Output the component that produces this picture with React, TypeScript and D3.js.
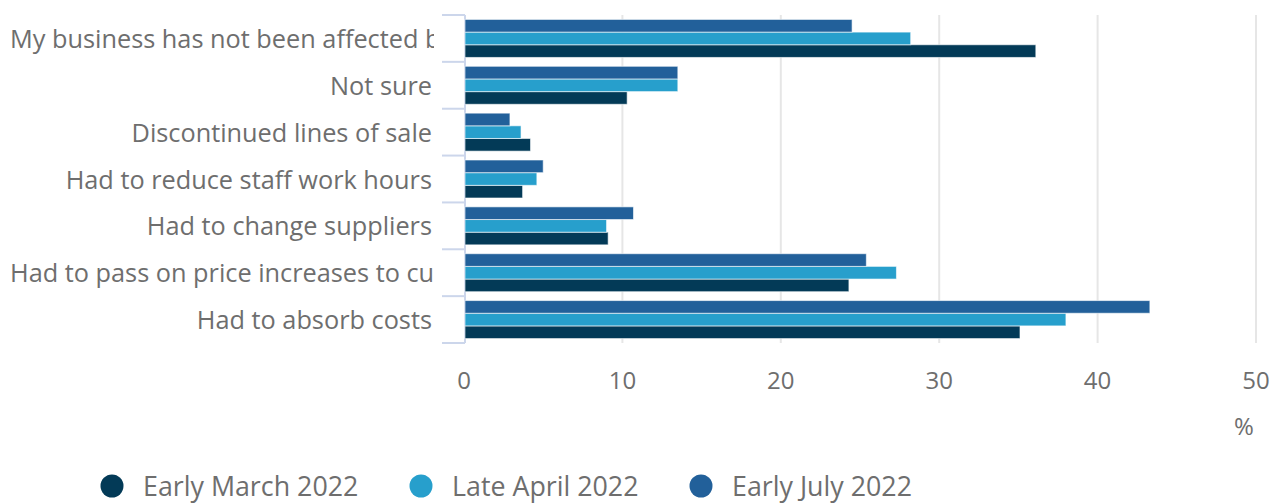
import React, { useRef, useEffect } from 'react';
import * as d3 from 'd3';

const categories = [
  'My business has not been affected by price increases',
  'Not sure',
  'Discontinued lines of sale',
  'Had to reduce staff work hours',
  'Had to change suppliers',
  'Had to pass on price increases to customers',
  'Had to absorb costs',
];

const earlyMarch = [36.1, 10.3, 4.2, 3.7, 9.1, 24.3, 35.1];
const lateApril = [28.2, 13.5, 3.6, 4.6, 9.0, 27.3, 38.0];
const earlyJuly = [24.5, 13.5, 2.9, 5.0, 10.7, 25.4, 43.3];

const xTicks = [0, 10, 20, 30, 40, 50];

const series = [
  { name: 'Early March 2022', values: earlyMarch, color: '#033a57' },
  { name: 'Late April 2022', values: lateApril, color: '#279fcc' },
  { name: 'Early July 2022', values: earlyJuly, color: '#22609a' },
];

// bars are stacked top-to-bottom in reverse series order
const barOrder = ['Early July 2022', 'Late April 2022', 'Early March 2022'];

const FONT = '"Open Sans", "Noto Sans", sans-serif';
const TEXT = '#6e6e6e';

const App: React.FC = () => {
  const svgRef = useRef<SVGSVGElement | null>(null);

  useEffect(() => {
    if (!svgRef.current) return;
    const svg = d3.select(svgRef.current);
    svg.selectAll('*').remove();

    const width = 1276;
    const height = 503;
    const plot = { left: 464, right: 1256, top: 15, bottom: 343 };

    const x = d3.scaleLinear().domain([0, 50]).range([plot.left, plot.right]);
    const y0 = d3.scaleBand().domain(categories).range([plot.top, plot.bottom]);
    const y1 = d3.scaleBand()
      .domain(barOrder)
      .range([0, y0.bandwidth()])
      .paddingOuter(0.35)
      .paddingInner(0);

    svg.attr('width', width).attr('height', height);

    svg.append('defs')
      .append('clipPath')
      .attr('id', 'label-clip')
      .append('rect')
      .attr('x', 0)
      .attr('y', 0)
      .attr('width', 434)
      .attr('height', plot.bottom + 10);

    // Grid
    svg.append('g')
      .selectAll('line')
      .data(xTicks.filter(t => t > 0))
      .join('line')
      .attr('x1', d => x(d))
      .attr('x2', d => x(d))
      .attr('y1', plot.top)
      .attr('y2', plot.bottom)
      .attr('stroke', '#e6e6e6')
      .attr('stroke-width', 2);

    // Category axis
    const yAxis = svg.append('g');
    yAxis.append('line')
      .attr('x1', plot.left + 1)
      .attr('x2', plot.left + 1)
      .attr('y1', plot.top)
      .attr('y2', plot.bottom)
      .attr('stroke', '#ccd6eb')
      .attr('stroke-width', 2);

    const boundaries = categories.map(c => y0(c)!).concat([plot.bottom]);
    yAxis.selectAll('.tick')
      .data(boundaries)
      .join('line')
      .attr('class', 'tick')
      .attr('x1', plot.left - 22)
      .attr('x2', plot.left + 1)
      .attr('y1', d => d)
      .attr('y2', d => d)
      .attr('stroke', '#ccd6eb')
      .attr('stroke-width', 2);

    // Category labels: long ones start at the left edge and are clipped
    const maxLabelWidth = 422;
    const labels = yAxis.append('g')
      .attr('clip-path', 'url(#label-clip)')
      .selectAll('.cat-label')
      .data(categories)
      .join('text')
      .attr('class', 'cat-label')
      .attr('x', 432)
      .attr('y', d => y0(d)! + y0.bandwidth() / 2)
      .attr('dy', '0.38em')
      .attr('text-anchor', 'end')
      .style('font-family', FONT)
      .style('font-size', '25.3px')
      .style('fill', TEXT)
      .text(d => d);

    labels.each(function () {
      const node = this as SVGTextElement;
      if (node.getComputedTextLength() > maxLabelWidth) {
        d3.select(node).attr('x', 10).attr('text-anchor', 'start');
      }
    });

    // Bars
    const groups = svg.append('g')
      .selectAll('g')
      .data(categories)
      .join('g')
      .attr('transform', d => `translate(0,${y0(d)})`);

    groups.selectAll('rect')
      .data((d, i) => series.map(s => ({ name: s.name, color: s.color, value: s.values[i] })))
      .join('rect')
      .attr('x', x(0) + 1)
      .attr('y', d => y1(d.name)!)
      .attr('width', d => x(d.value) - x(0) - 1)
      .attr('height', y1.bandwidth())
      .attr('fill', d => d.color)
      .attr('stroke', 'rgba(255,255,255,0.6)')
      .attr('stroke-width', 1);

    // X tick labels
    svg.append('g')
      .selectAll('text')
      .data(xTicks)
      .join('text')
      .attr('x', d => x(d))
      .attr('y', 389)
      .attr('text-anchor', 'middle')
      .style('font-family', FONT)
      .style('font-size', '24px')
      .style('fill', TEXT)
      .text(d => d);

    svg.append('text')
      .attr('x', 1244)
      .attr('y', 435)
      .attr('text-anchor', 'middle')
      .style('font-family', FONT)
      .style('font-size', '24px')
      .style('fill', TEXT)
      .text('%');

    // Legend
    const legendX = [112, 421, 701];
    const legend = svg.append('g');
    const item = legend.selectAll('g')
      .data(series)
      .join('g')
      .attr('transform', (_, i) => `translate(${legendX[i]},486)`);

    item.append('circle')
      .attr('r', 11.5)
      .attr('fill', d => d.color);

    item.append('text')
      .attr('x', 31)
      .attr('y', 10)
      .style('font-family', FONT)
      .style('font-size', '26.8px')
      .style('fill', TEXT)
      .text(d => d.name);
  }, []);

  return <svg ref={svgRef} style={{ display: 'block', position: 'absolute', left: 0, top: 0 }}></svg>;
};

export default App;
